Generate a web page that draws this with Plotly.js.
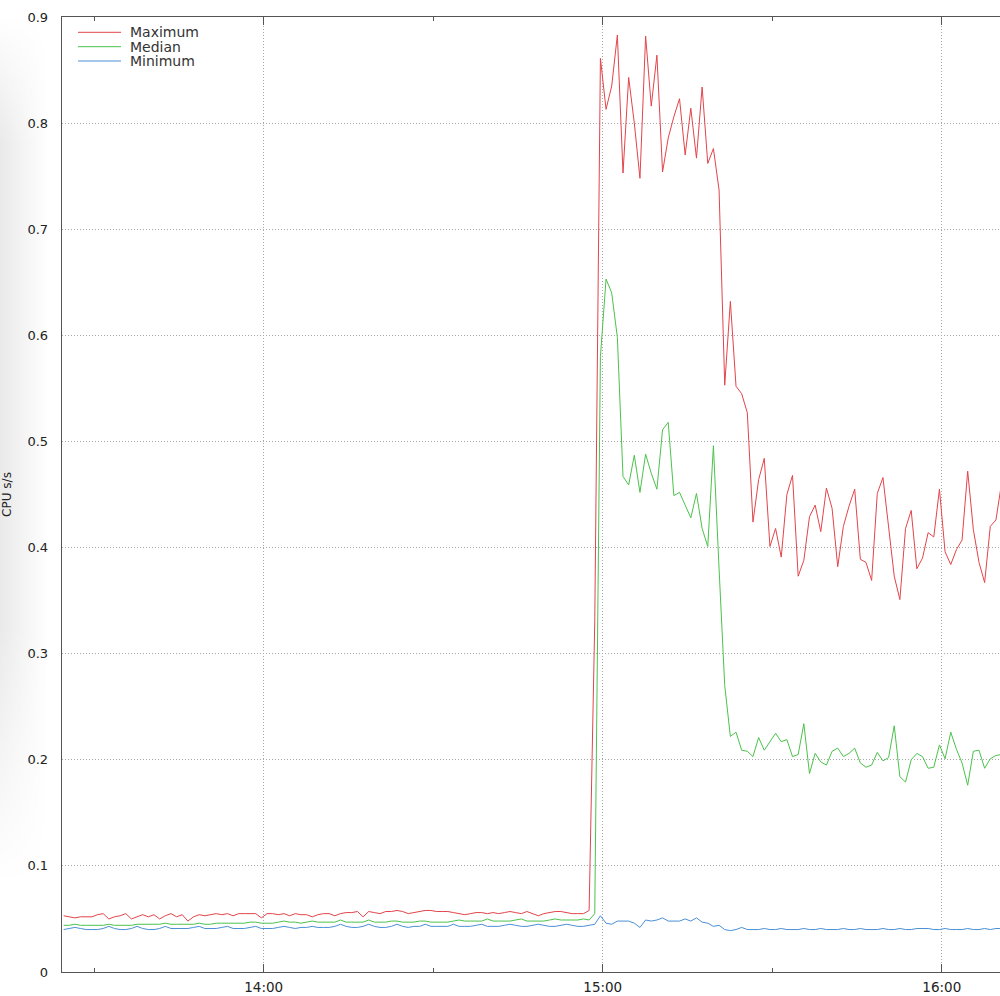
<!DOCTYPE html>
<html>
<head>
<meta charset="utf-8">
<script src="https://cdn.plot.ly/plotly-3.0.1.min.js"></script>
<style>
  html, body { margin: 0; padding: 0; background: #fff; }
  #wrap { position: relative; width: 1000px; height: 996px; overflow: hidden; }
  #shadow { position: absolute; left: 0; top: 15px; width: 48px; height: 870px;
    background: linear-gradient(to right, rgba(0,0,0,0.085), rgba(0,0,0,0));
    -webkit-mask-image: linear-gradient(to bottom, transparent 0%, black 15%, black 70%, transparent 100%);
    mask-image: linear-gradient(to bottom, transparent 0%, black 15%, black 70%, transparent 100%); }
  #chart { position: absolute; left: 0; top: 0; width: 1000px; height: 996px; }
</style>
</head>
<body>
<div id="wrap"><div id="shadow"></div><div id="chart"></div></div>
<script>
// ---- data (1-minute samples, first sample at 13:24:35) ----
const seriesNames = ["Maximum", "Median", "Minimum"];
const firstSample = {hour: 13, minute: 24, second: 35};

const cpuMax = [
  0.053,0.052,0.051,0.052,0.052,0.052,0.054,0.055,0.050,0.052,
  0.053,0.055,0.050,0.052,0.054,0.052,0.054,0.050,0.053,0.055,
  0.052,0.054,0.048,0.052,0.054,0.053,0.054,0.055,0.054,0.055,
  0.053,0.055,0.055,0.055,0.055,0.051,0.055,0.055,0.054,0.055,
  0.053,0.055,0.054,0.054,0.052,0.054,0.055,0.055,
  0.053,0.055,0.056,0.056,0.057,0.052,0.057,0.056,0.055,0.057,
  0.057,0.058,0.057,0.055,0.056,0.057,0.058,0.058,0.057,0.057,
  0.057,0.056,0.055,0.054,0.055,0.056,0.056,0.055,0.056,0.055,
  0.056,0.057,0.056,0.055,0.057,0.055,0.053,0.055,0.056,0.057,
  0.057,0.056,0.055,0.055,0.055,
  0.058,0.330,
  0.861,0.813,0.835,0.883,0.753,0.843,0.800,0.748,0.882,0.816,
  0.864,0.754,0.786,0.806,0.823,0.770,0.814,0.767,0.834,0.762,
  0.776,0.737,0.553,0.632,0.552,0.545,0.527,0.424,0.464,0.484,
  0.401,0.418,0.391,0.450,0.468,0.373,0.388,0.429,0.440,0.415,
  0.456,0.437,0.382,0.420,0.439,0.455,0.389,0.386,0.369,0.451,
  0.466,0.417,0.373,0.351,0.418,0.435,0.380,0.390,0.414,0.410,
  0.455,0.396,0.384,0.398,0.407,0.472,0.417,0.386,0.367,0.420,
  0.426,0.461
];

const cpuMedian = [
  0.044,0.044,0.045,0.044,0.044,0.044,0.044,0.044,0.045,0.044,
  0.044,0.044,0.044,0.045,0.045,0.045,0.045,0.045,0.046,0.045,
  0.045,0.045,0.045,0.045,0.046,0.045,0.045,0.046,0.046,0.046,
  0.046,0.046,0.046,0.047,0.047,0.046,0.046,0.046,0.047,0.048,
  0.047,0.047,0.046,0.047,0.048,0.047,0.047,0.047,
  0.047,0.049,0.047,0.047,0.047,0.047,0.049,0.047,0.047,0.047,
  0.048,0.048,0.047,0.047,0.047,0.048,0.048,0.047,0.047,0.047,
  0.047,0.048,0.049,0.048,0.048,0.048,0.048,0.050,0.048,0.048,
  0.048,0.048,0.049,0.050,0.048,0.048,0.048,0.048,0.049,0.050,
  0.049,0.049,0.049,0.049,0.050,0.049,0.055,
  0.580,0.653,0.640,0.598,0.467,0.459,0.487,0.452,0.488,0.470,
  0.455,0.511,0.518,0.449,0.452,0.440,0.428,0.451,0.418,0.401,
  0.496,0.380,0.270,0.222,0.226,0.209,0.208,0.203,0.221,0.209,
  0.217,0.225,0.217,0.219,0.203,0.205,0.234,0.187,0.206,0.198,
  0.195,0.208,0.211,0.203,0.206,0.211,0.197,0.193,0.195,0.207,
  0.199,0.202,0.232,0.184,0.179,0.200,0.206,0.203,0.192,0.193,
  0.214,0.201,0.226,0.210,0.197,0.176,0.208,0.209,0.192,0.201,
  0.204,0.205
];

const cpuMin = [
  0.040,0.041,0.042,0.041,0.040,0.040,0.040,0.041,0.043,0.041,
  0.040,0.040,0.041,0.043,0.041,0.040,0.040,0.041,0.043,0.041,
  0.041,0.041,0.041,0.042,0.043,0.041,0.041,0.041,0.042,0.043,
  0.041,0.041,0.041,0.042,0.043,0.041,0.041,0.041,0.042,0.043,
  0.042,0.041,0.042,0.042,0.043,0.042,0.042,0.042,0.043,0.045,
  0.043,0.042,0.042,0.043,0.045,0.043,0.042,0.042,0.043,0.045,
  0.043,0.042,0.043,0.043,0.045,0.043,0.043,0.043,0.043,0.045,
  0.043,0.043,0.043,0.044,0.045,0.043,0.043,0.043,0.044,0.045,
  0.044,0.043,0.043,0.044,0.045,0.044,0.043,0.043,0.044,0.045,
  0.044,0.043,0.043,0.044,0.045,
  0.053,0.046,0.045,0.048,0.048,0.048,0.046,0.042,0.049,0.048,
  0.049,0.051,0.048,0.048,0.048,0.050,0.048,0.051,0.047,0.046,
  0.043,0.044,0.040,0.039,0.040,0.042,0.040,
  0.040,0.040,0.041,0.040,0.040,0.041,0.040,0.040,0.040,0.041,
  0.040,0.040,0.041,0.040,0.040,0.040,0.041,0.040,0.040,0.041,
  0.040,0.040,0.040,0.041,0.040,0.040,0.041,0.040,0.040,0.041,
  0.041,0.041,0.040,0.040,0.041,0.040,0.040,0.040,0.041,0.040,
  0.040,0.041,0.040,0.041,0.041
];

const xTickLabelsMajor = ["14:00", "15:00", "16:00"];
const yTickValues = [0,0.1,0.2,0.3,0.4,0.5,0.6,0.7,0.8,0.9];
const yTickLabels = ["0","0.1","0.2","0.3","0.4","0.5","0.6","0.7","0.8","0.9"];

// ---- sample timestamps ----
function pad(n){ return (n < 10 ? "0" : "") + n; }
function stamp(totalSec){
  const h = Math.floor(totalSec / 3600), m = Math.floor((totalSec % 3600) / 60), s = totalSec % 60;
  return "2024-01-01 " + pad(h) + ":" + pad(m) + ":" + pad(s);
}
const t0 = firstSample.hour*3600 + firstSample.minute*60 + firstSample.second;
const times = cpuMax.map((_, i) => stamp(t0 + i*60));

// ---- styling ----
const colors = ["#e3444a", "#4cc24c", "#4b8fd6"];
const W = 1000, H = 996, ML = 62, MR = 0, MT = 17, MB = 24;
const PW = W - ML - MR, PH = H - MT - MB;
const px2x = p => (p - ML) / PW;
const px2y = p => (H - MB - p) / PH;
const FONT = "DejaVu Sans, Verdana, sans-serif";
const GRID_DASH = "1px,2px";

const seriesData = [cpuMax, cpuMedian, cpuMin];
const traces = seriesData.map((vals, j) => ({
  type: "scatter", mode: "lines", name: seriesNames[j],
  x: times, y: vals,
  line: {color: colors[j], width: 1},
  showlegend: false, hoverinfo: "x+y+name"
}));

// manual legend (top-left inside the plot)
const legendRows = [32.3, 46.7, 61.0];
const shapes = [], annotations = [];
seriesNames.forEach((nm, j) => {
  shapes.push({type: "line", xref: "paper", yref: "paper",
    x0: px2x(78), x1: px2x(121), y0: px2y(legendRows[j]), y1: px2y(legendRows[j]),
    line: {color: colors[j], width: 1}});
  annotations.push({xref: "paper", yref: "paper", x: px2x(128), y: px2y(legendRows[j]),
    xanchor: "left", yanchor: "middle", showarrow: false, text: nm,
    font: {family: FONT, size: 14, color: "#333"}});
});

const layout = {
  width: W, height: H,
  margin: {l: ML, r: MR, t: MT, b: MB, pad: 0},
  paper_bgcolor: "rgba(0,0,0,0)", plot_bgcolor: "rgba(0,0,0,0)",
  font: {family: FONT, size: 13, color: "#222"},
  showlegend: false,
  xaxis: {
    type: "date",
    range: ["2024-01-01 13:24:18", "2024-01-01 16:10:18"],
    tickmode: "array",
    tickvals: ["2024-01-01 14:00:00", "2024-01-01 15:00:00", "2024-01-01 16:00:00"],
    ticktext: xTickLabelsMajor,
    ticks: "inside", ticklen: 8, tickwidth: 1.3, tickcolor: "#555",
    minor: {tickmode: "linear", tick0: "2024-01-01 13:30:00", dtick: 1800000,
            ticks: "inside", ticklen: 4, tickwidth: 1.3, tickcolor: "#555", showgrid: false},
    showline: true, linecolor: "#555", linewidth: 1.3, mirror: "ticks",
    showgrid: true, gridcolor: "#a8a8a8", griddash: GRID_DASH, gridwidth: 1,
    zeroline: false,
    tickfont: {family: FONT, size: 13.5, color: "#222"},
    ticklabelstandoff: 2
  },
  yaxis: {
    range: [0, 0.9],
    tickmode: "array", tickvals: yTickValues, ticktext: yTickLabels,
    ticks: "", showline: true, linecolor: "#555", linewidth: 1.3, mirror: false,
    showgrid: true, gridcolor: "#a8a8a8", griddash: GRID_DASH, gridwidth: 1,
    zeroline: false,
    tickfont: {family: FONT, size: 13, color: "#222"},
    ticklabelstandoff: 10,
    title: {text: "CPU s/s", font: {family: FONT, size: 12, color: "#222"}, standoff: 14}
  },
  shapes: shapes,
  annotations: annotations
};

Plotly.newPlot("chart", traces, layout, {displayModeBar: false, staticPlot: true});
</script>
</body>
</html>
